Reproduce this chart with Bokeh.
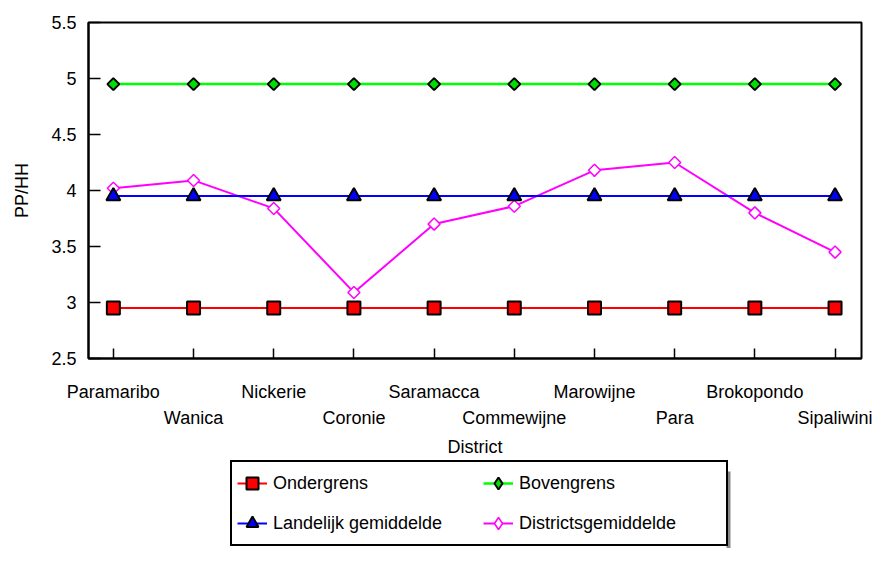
import math
from bokeh.plotting import figure
from bokeh.layouts import column
from bokeh.models import (Range1d, FixedTicker, LinearAxis, Legend, LegendItem,
                          NumeralTickFormatter)
from bokeh.embed import file_html
from bokeh.resources import INLINE

# ---- data ----
districts = ["Paramaribo", "Wanica", "Nickerie", "Coronie", "Saramacca",
             "Commewijne", "Marowijne", "Para", "Brokopondo", "Sipaliwini"]
ondergrens = [2.95, 2.95, 2.95, 2.95, 2.95, 2.95, 2.95, 2.95, 2.95, 2.95]
bovengrens = [4.95, 4.95, 4.95, 4.95, 4.95, 4.95, 4.95, 4.95, 4.95, 4.95]
landelijk = [3.95, 3.95, 3.95, 3.95, 3.95, 3.95, 3.95, 3.95, 3.95, 3.95]
districtsgem = [4.02, 4.09, 3.84, 3.09, 3.70, 3.86, 4.18, 4.25, 3.80, 3.45]
y_ticks = [2.5, 3, 3.5, 4, 4.5, 5, 5.5]
series_names = ["Ondergrens", "Bovengrens", "Landelijk gemiddelde", "Districtsgemiddelde"]

FONT = "Liberation Sans"
FS = "18px"
x_idx = list(range(len(districts)))

# layout constants (pixels)
FW, FH = 773, 336
BL, BT, BR, BB = 88, 22, 14, 100
LH = 89

# marker / line styles
ST_ON = dict(line=dict(line_color="#FF0000", line_width=2),
             mk=dict(marker="square", size=13, fill_color="#FF0000", line_color="black", line_width=2),
             lg=dict(marker="square", fill_color="#FF0000", line_color="black", line_width=2))
ST_BO = dict(line=dict(line_color="#00FF00", line_width=2.5),
             mk=dict(marker="square", angle=math.pi / 4, size=8.5, fill_color="#00DD00",
                     line_color="black", line_width=2),
             lg=dict(marker="diamond", fill_color="#00DD00", line_color="black", line_width=2))
ST_LA = dict(line=dict(line_color="#0000FF", line_width=2),
             mk=dict(marker="triangle", size=14, fill_color="#0000FF", line_color="black", line_width=2),
             lg=dict(marker="triangle", fill_color="#0000FF", line_color="black", line_width=2))
ST_DI = dict(line=dict(line_color="#FF00FF", line_width=2),
             mk=dict(marker="square", angle=math.pi / 4, size=8.5, fill_color="white",
                     line_color="#FF00FF", line_width=1.5),
             lg=dict(marker="diamond", fill_color="white", line_color="#FF00FF", line_width=1.5))
series = [(ondergrens, ST_ON), (bovengrens, ST_BO), (landelijk, ST_LA), (districtsgem, ST_DI)]

p = figure(frame_width=FW, frame_height=FH,
           x_range=Range1d(-0.31, 9.33), y_range=Range1d(2.5, 5.5),
           output_backend="svg", toolbar_location=None,
           min_border_left=BL, min_border_top=BT, min_border_right=BR,
           min_border_bottom=BB)
p.grid.visible = False
p.outline_line_color = "black"
p.outline_line_width = 2

# y axis
yax = p.yaxis[0]
yax.ticker = FixedTicker(ticks=y_ticks)
yax.formatter = NumeralTickFormatter(format="0.[0]")
yax.major_tick_in = 12
yax.major_tick_out = 0
yax.minor_tick_line_color = None
yax.axis_line_width = 2
yax.major_tick_line_width = 1.5
yax.major_label_text_font = FONT
yax.major_label_text_font_size = FS
yax.major_label_text_color = "black"
yax.major_label_standoff = 12
yax.axis_label = "PP/HH"
yax.axis_label_text_font = FONT
yax.axis_label_text_font_size = FS
yax.axis_label_text_font_style = "normal"
yax.axis_label_text_color = "black"
yax.axis_label_standoff = 16

# x axis row 1 (even districts) with all ticks
xax = p.xaxis[0]
xax.ticker = FixedTicker(ticks=x_idx)
xax.major_label_overrides = {i: (d if i % 2 == 0 else "") for i, d in enumerate(districts)}
xax.major_tick_in = 10
xax.major_tick_out = 0
xax.minor_tick_line_color = None
xax.axis_line_width = 2
xax.major_tick_line_width = 1.5
xax.major_label_text_font = FONT
xax.major_label_text_font_size = FS
xax.major_label_text_color = "black"
xax.major_label_standoff = 23

# x axis row 2 (odd districts)
xax2 = LinearAxis(ticker=FixedTicker(ticks=x_idx[1::2]),
                  major_label_overrides={i: d for i, d in enumerate(districts) if i % 2 == 1},
                  axis_line_color=None, major_tick_line_color=None,
                  minor_tick_line_color=None, major_tick_in=0, major_tick_out=0,
                  major_label_text_font=FONT, major_label_text_font_size=FS,
                  major_label_text_color="black", major_label_standoff=3,
                  axis_label="District", axis_label_text_font=FONT,
                  axis_label_text_font_size=FS, axis_label_text_font_style="normal",
                  axis_label_text_color="black", axis_label_standoff=6)
p.add_layout(xax2, "below")

# series (order: lower, upper, district, national on top)
for vals, st in [series[0], series[1], series[3], series[2]]:
    p.line(x_idx, vals, **st["line"])
    p.scatter(x_idx, vals, **st["mk"])

# ---- legend panel (separate figure so the legend is not clipped) ----
# x in frame pixels, y in pixels shifted by 1000 so the series data stay out of view
q = figure(frame_width=FW, frame_height=LH,
           x_range=Range1d(0, FW), y_range=Range1d(1000 + LH, 1000),
           output_backend="svg", toolbar_location=None,
           x_axis_location=None, y_axis_location=None,
           min_border_left=BL, min_border_right=BR, min_border_top=0, min_border_bottom=0)
q.grid.visible = False
q.outline_line_color = None

# shadow at the right side of the legend box
q.quad(left=[726 - BL], right=[730 - BL], top=[1000 + 12], bottom=[1000 + LH],
       fill_color="#888888", line_color=None)

items = []
for name, (vals, st) in zip(series_names, series):
    r1 = q.line(x_idx, vals, **st["line"])
    r2 = q.scatter(x_idx, vals, **st["lg"])
    items.append(LegendItem(label=name, renderers=[r1, r2]))

legend = Legend(items=items, ncols=2, orientation="horizontal", location=(230 - BL, 2),
                label_text_font=FONT, label_text_font_size=FS, label_text_color="black",
                label_width=202, label_height=32, glyph_width=30, glyph_height=32,
                label_standoff=6, spacing=8, padding=5, margin=0,
                border_line_color="black", border_line_width=2, border_line_alpha=1.0,
                background_fill_color="white", background_fill_alpha=1.0)
q.add_layout(legend)

layout = column(p, q, spacing=0)
open("out.html", "w").write(file_html(layout, INLINE))
